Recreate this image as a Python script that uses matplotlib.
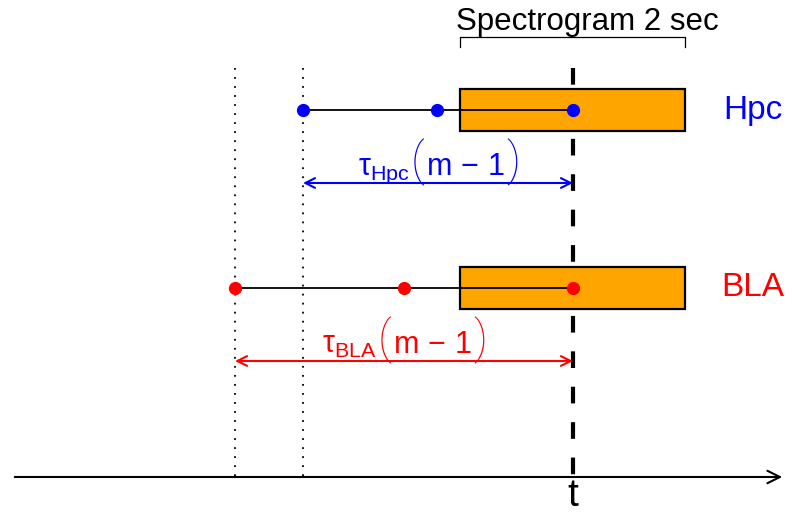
import matplotlib.pyplot as plt
from matplotlib.patches import Rectangle
from matplotlib.offsetbox import TextArea, HPacker, AnnotationBbox

plt.rcParams['font.family'] = ['Liberation Sans', 'DejaVu Sans']
plt.rcParams['mathtext.fontset'] = 'custom'
plt.rcParams['mathtext.rm'] = 'Liberation Sans'
plt.rcParams['mathtext.it'] = 'Liberation Sans'
plt.rcParams['mathtext.bf'] = 'Liberation Sans:bold'

# delay-embedding samples for each region (time positions, t = current time)
t_now = 573
hpc_times = [303, 437, 573]
bla_times = [235, 404, 573]
regions = ['Hpc', 'BLA']
region_colors = ['blue', 'red']
row_y = [110, 288]
spec_start, spec_end = 460, 685
spec_label = 'Spectrogram 2 sec'

fig = plt.figure(figsize=(7.95, 5.15), dpi=100)
ax = fig.add_axes([0, 0, 1, 1])
ax.set_xlim(0, 795)
ax.set_ylim(515, 0)
ax.axis('off')

# time axis
ax.annotate('', xy=(785, 477), xytext=(12, 477),
            arrowprops=dict(arrowstyle='->,head_length=0.9,head_width=0.45', lw=1.5, color='black'))
ax.text(t_now, 506, 't', fontsize=28, ha='center', va='baseline')

# current time marker
ax.plot([t_now, t_now], [68, 477], color='black', lw=3, dashes=(4, 4.5), zorder=1)

# start of each embedding window
for x0 in [bla_times[0], hpc_times[0]]:
    ax.plot([x0, x0], [68, 477], color='black', lw=1.3, dashes=(1, 4), zorder=1)


def lag_label(name, col, x, y):
    # tau_name ( m - 1 ) with tall thin brackets
    paren = dict(color=col, fontsize=33, family=['Roboto', 'Liberation Sans'], fontweight='light')
    parts = [
        TextArea(r'$\tau_{\mathrm{%s}}$' % name, textprops=dict(color=col, fontsize=22)),
        TextArea('(', textprops=paren),
        TextArea(r'$\mathrm{m}\,-\,1$', textprops=dict(color=col, fontsize=22)),
        TextArea(')', textprops=paren),
    ]
    box = HPacker(children=parts, align='baseline', pad=0, sep=1)
    ab = AnnotationBbox(box, (x, y), xycoords='data', frameon=False, box_alignment=(0.5, 0.5))
    ax.add_artist(ab)


for name, col, y, times in zip(regions, region_colors, row_y, [hpc_times, bla_times]):
    ax.add_patch(Rectangle((spec_start, y - 21), spec_end - spec_start, 42,
                           facecolor='#FFA500', edgecolor='black', lw=1.6, zorder=2))
    ax.plot([times[0], times[-1]], [y, y], color='black', lw=1.3, zorder=3)
    ax.plot(times, [y] * len(times), 'o', color=col, ms=8.5, zorder=4)
    ax.text(753, y, name, color=col, fontsize=24, ha='center', va='center')

    # lag span arrow
    ay = y + 73
    ax.annotate('', xy=(times[-1], ay), xytext=(times[0], ay),
                arrowprops=dict(arrowstyle='<->,head_length=0.7,head_width=0.35', lw=1.5,
                                color=col, shrinkA=0, shrinkB=0))
    lag_label(name, col, (times[0] + times[-1]) / 2 + 1, ay - 21)

# spectrogram window bracket
ax.plot([spec_start, spec_start, spec_end, spec_end], [47, 37, 37, 47], color='black', lw=0.9)
ax.text(587, 30, spec_label, fontsize=22.5, ha='center', va='baseline')

fig.savefig('out.png', dpi=100)
